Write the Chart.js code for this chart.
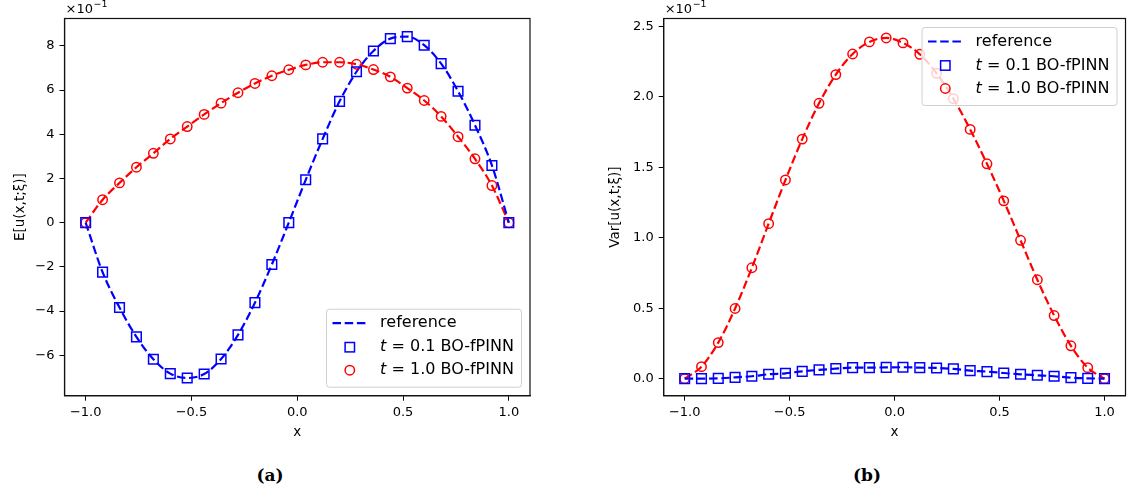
<!DOCTYPE html>
<html><head><meta charset="utf-8">
<script src="https://cdn.jsdelivr.net/npm/chart.js@4.4.0/dist/chart.umd.min.js"></script>
<style>
html,body{margin:0;padding:0;background:#fff;width:1127px;height:493px;overflow:hidden;}
#wrapA{position:absolute;left:0;top:0;width:560px;height:450px;}
#wrapB{position:absolute;left:560px;top:0;width:567px;height:450px;}
.cap{position:absolute;top:464px;line-height:22px;font-family:'DejaVu Serif','Liberation Serif',serif;font-weight:bold;font-size:17px;transform:translateX(-50%);color:#000;}
</style></head><body>
<div id="wrapA"><canvas id="cA" width="560" height="450"></canvas></div>
<div id="wrapB"><canvas id="cB" width="567" height="450"></canvas></div>
<div class="cap" style="left:270px">(a)</div>
<div class="cap" style="left:867px">(b)</div>
<script>
// ---- data ----
const xGrid = [-1.00,-0.92,-0.84,-0.76,-0.68,-0.60,-0.52,-0.44,-0.36,-0.28,-0.20,-0.12,-0.04,
               0.04,0.12,0.20,0.28,0.36,0.44,0.52,0.60,0.68,0.76,0.84,0.92,1.00];
// mean E[u], in units of 1e-1
const meanT01 = [0,-2.24,-3.84,-5.17,-6.18,-6.83,-7.03,-6.85,-6.17,-5.08,-3.62,-1.89,0.00,
                 1.94,3.79,5.49,6.83,7.77,8.33,8.42,8.03,7.20,5.95,4.41,2.59,0];
const meanT10 = [0,1.04,1.80,2.51,3.14,3.79,4.35,4.90,5.41,5.88,6.30,6.65,6.92,
                 7.14,7.26,7.26,7.17,6.93,6.60,6.09,5.53,4.81,3.89,2.89,1.68,0];
// variance Var[u], in units of 1e-1
const varT01 = [0,0.000,0.002,0.009,0.017,0.031,0.038,0.052,0.062,0.071,0.078,0.078,0.080,
                0.081,0.078,0.076,0.069,0.057,0.050,0.040,0.031,0.024,0.017,0.007,0.002,0];
const varT10 = [0,0.085,0.256,0.498,0.787,1.100,1.410,1.700,1.954,2.158,2.304,2.390,2.418,
                2.383,2.302,2.167,1.987,1.769,1.525,1.262,0.982,0.702,0.448,0.233,0.078,0];
// reference curves (visually coincide with the markers)
const refMeanT01 = meanT01, refMeanT10 = meanT10, refVarT01 = varT01, refVarT10 = varT10;
// tick labels
const xTicks = [-1.0,-0.5,0.0,0.5,1.0];
const yTicksA = [-6,-4,-2,0,2,4,6,8];
const yTicksB = [0.0,0.5,1.0,1.5,2.0,2.5];
const legendLabels = ['reference','0.1','1.0'];

// ---- helpers ----
const BLUE='#0000ff', RED='#ff0000', FONT='DejaVu Sans';
const pts = (xs, ys) => xs.map((x,i)=>({x, y: ys[i]}));
const minus = s => s.replace('-', '\u2212');
const fmt1 = v => minus(Number(v).toFixed(1));
const fmt0 = v => minus(String(Math.round(v)));

function markerDS(ys, style, color, r){
  return {data: pts(xGrid, ys), showLine:false, pointStyle:style, pointRadius:r,
    pointBorderColor:color, pointBackgroundColor:'rgba(0,0,0,0)', pointBorderWidth:1.5,
    borderColor:color};
}
function refDS(ys, color){
  return {data: pts(xGrid, ys), showLine:true, borderColor:color, borderWidth:2.2,
    borderDash:[8.5,3.7], pointRadius:0, cubicInterpolationMode:'monotone', fill:false};
}

function decor(opts){
  return {id:'decor', afterDatasetsDraw(chart){
    const ca = chart.chartArea, ctx = chart.ctx;
    ctx.save();
    ctx.strokeStyle='#111'; ctx.lineWidth=1.2; ctx.setLineDash([]);
    ctx.strokeRect(ca.left, ca.top, ca.right-ca.left, ca.bottom-ca.top);
    ctx.fillStyle='#000'; ctx.textBaseline='alphabetic'; ctx.textAlign='left';
    ctx.font='13px "'+FONT+'"';
    const ex = ca.left+1, ey = ca.top-6;
    ctx.fillText('\u00d710', ex, ey);
    const w10 = ctx.measureText('\u00d710').width;
    ctx.font='9.5px "'+FONT+'"';
    ctx.fillText('\u22121', ex+w10+0.5, ey-5.5);
    const w=195, h=78;
    const left = ca.right-8.5-w;
    const top = opts.legend==='lower right' ? ca.bottom-8.5-h : ca.top+9;
    ctx.beginPath();
    const r=3;
    ctx.moveTo(left+r,top); ctx.lineTo(left+w-r,top); ctx.arcTo(left+w,top,left+w,top+r,r);
    ctx.lineTo(left+w,top+h-r); ctx.arcTo(left+w,top+h,left+w-r,top+h,r);
    ctx.lineTo(left+r,top+h); ctx.arcTo(left,top+h,left,top+h-r,r);
    ctx.lineTo(left,top+r); ctx.arcTo(left,top,left+r,top,r); ctx.closePath();
    ctx.fillStyle='rgba(255,255,255,0.8)'; ctx.fill();
    ctx.strokeStyle='#d0d0d0'; ctx.lineWidth=1; ctx.stroke();
    const rows=[top+14, top+38, top+61];
    ctx.strokeStyle=BLUE; ctx.lineWidth=2.2; ctx.setLineDash([8.5,3.7]);
    ctx.beginPath(); ctx.moveTo(left+6, rows[0]); ctx.lineTo(left+39.5, rows[0]); ctx.stroke();
    ctx.setLineDash([]);
    const mx = left+23.3;
    ctx.lineWidth=1.5; ctx.strokeStyle=BLUE;
    ctx.strokeRect(mx-4.7, rows[1]-4.7, 9.4, 9.4);
    ctx.strokeStyle=RED; ctx.beginPath(); ctx.arc(mx, rows[2], 4.7, 0, Math.PI*2); ctx.stroke();
    ctx.fillStyle='#000'; ctx.textBaseline='middle';
    const tx = left+53.6;
    ctx.font='16px "'+FONT+'"';
    ctx.fillText(legendLabels[0], tx, rows[0]);
    for (let i=1;i<3;i++){
      ctx.font='italic 16px "'+FONT+'"';
      ctx.fillText('t', tx, rows[i]);
      const wt = ctx.measureText('t').width;
      ctx.font='16px "'+FONT+'"';
      ctx.fillText(' = '+legendLabels[i]+' BO-fPINN', tx+wt, rows[i]);
    }
    ctx.restore();
  }};
}

function makeChart(id, cfg){
  const tickFont = {family:FONT, size:13};
  return new Chart(document.getElementById(id), {
    type:'line',
    data:{datasets:[
      markerDS(cfg.y01, 'rect', BLUE, 6.8),
      markerDS(cfg.y10, 'circle', RED, 4.7),
      refDS(cfg.r01, BLUE),
      refDS(cfg.r10, RED)
    ]},
    options:{
      responsive:false, animation:false, devicePixelRatio:1, events:[],
      layout:{autoPadding:false, padding:{left:0, right:cfg.padRight, top:cfg.padTop, bottom:0}},
      plugins:{legend:{display:false}, tooltip:{enabled:false}},
      scales:{
        x:{type:'linear', min:-1.1, max:1.1,
           afterBuildTicks: ax => { ax.ticks = xTicks.map(v=>({value:v})); },
           afterFit: s => { s.height = cfg.xH; s.paddingLeft = 0; s.paddingRight = 0; },
           grid:{drawOnChartArea:false, drawTicks:true, tickLength:5, tickColor:'#000', tickWidth:1},
           border:{display:true, color:'#111', width:1.2},
           ticks:{font:tickFont, color:'#000', padding:4, maxRotation:0, autoSkip:false, callback: v => fmt1(v)},
           title:{display:true, text:'x', font:{family:FONT, size:13.5}, color:'#000', padding:{top:0,bottom:9}}},
        y:{type:'linear', min:cfg.ymin, max:cfg.ymax,
           afterBuildTicks: ax => { ax.ticks = cfg.yTicks.map(v=>({value:v})); },
           afterFit: s => { s.width = cfg.yW; s.paddingTop = 0; s.paddingBottom = 0; },
           grid:{drawOnChartArea:false, drawTicks:true, tickLength:5, tickColor:'#000', tickWidth:1},
           border:{display:true, color:'#111', width:1.2},
           ticks:{font:tickFont, color:'#000', padding:5, autoSkip:false, callback: cfg.yFmt},
           title:{display:true, text:cfg.yTitle, font:{family:FONT, size:13.5}, color:'#000', padding:{top:cfg.yTitlePad, bottom:0}}}
      }
    },
    plugins:[decor({legend:cfg.legend})]
  });
}

makeChart('cA', {y01:meanT01, y10:meanT10, r01:refMeanT01, r10:refMeanT10,
  ymin:-7.83, ymax:9.24, yTicks:yTicksA, yFmt:v=>fmt0(v), yTitle:'E[u(x,t;\u03be)]',
  yW:64.5, padRight:30, padTop:18.5, xH:54.3, yTitlePad:12, legend:'lower right'});
makeChart('cB', {y01:varT01, y10:varT10, r01:refVarT01, r10:refVarT10,
  ymin:-0.121, ymax:2.556, yTicks:yTicksB, yFmt:v=>fmt1(v), yTitle:'Var[u(x,t;\u03be)]',
  yW:103.7, padRight:1.5, padTop:18.5, xH:54.3, yTitlePad:47, legend:'upper right'});
</script>
</body></html>
